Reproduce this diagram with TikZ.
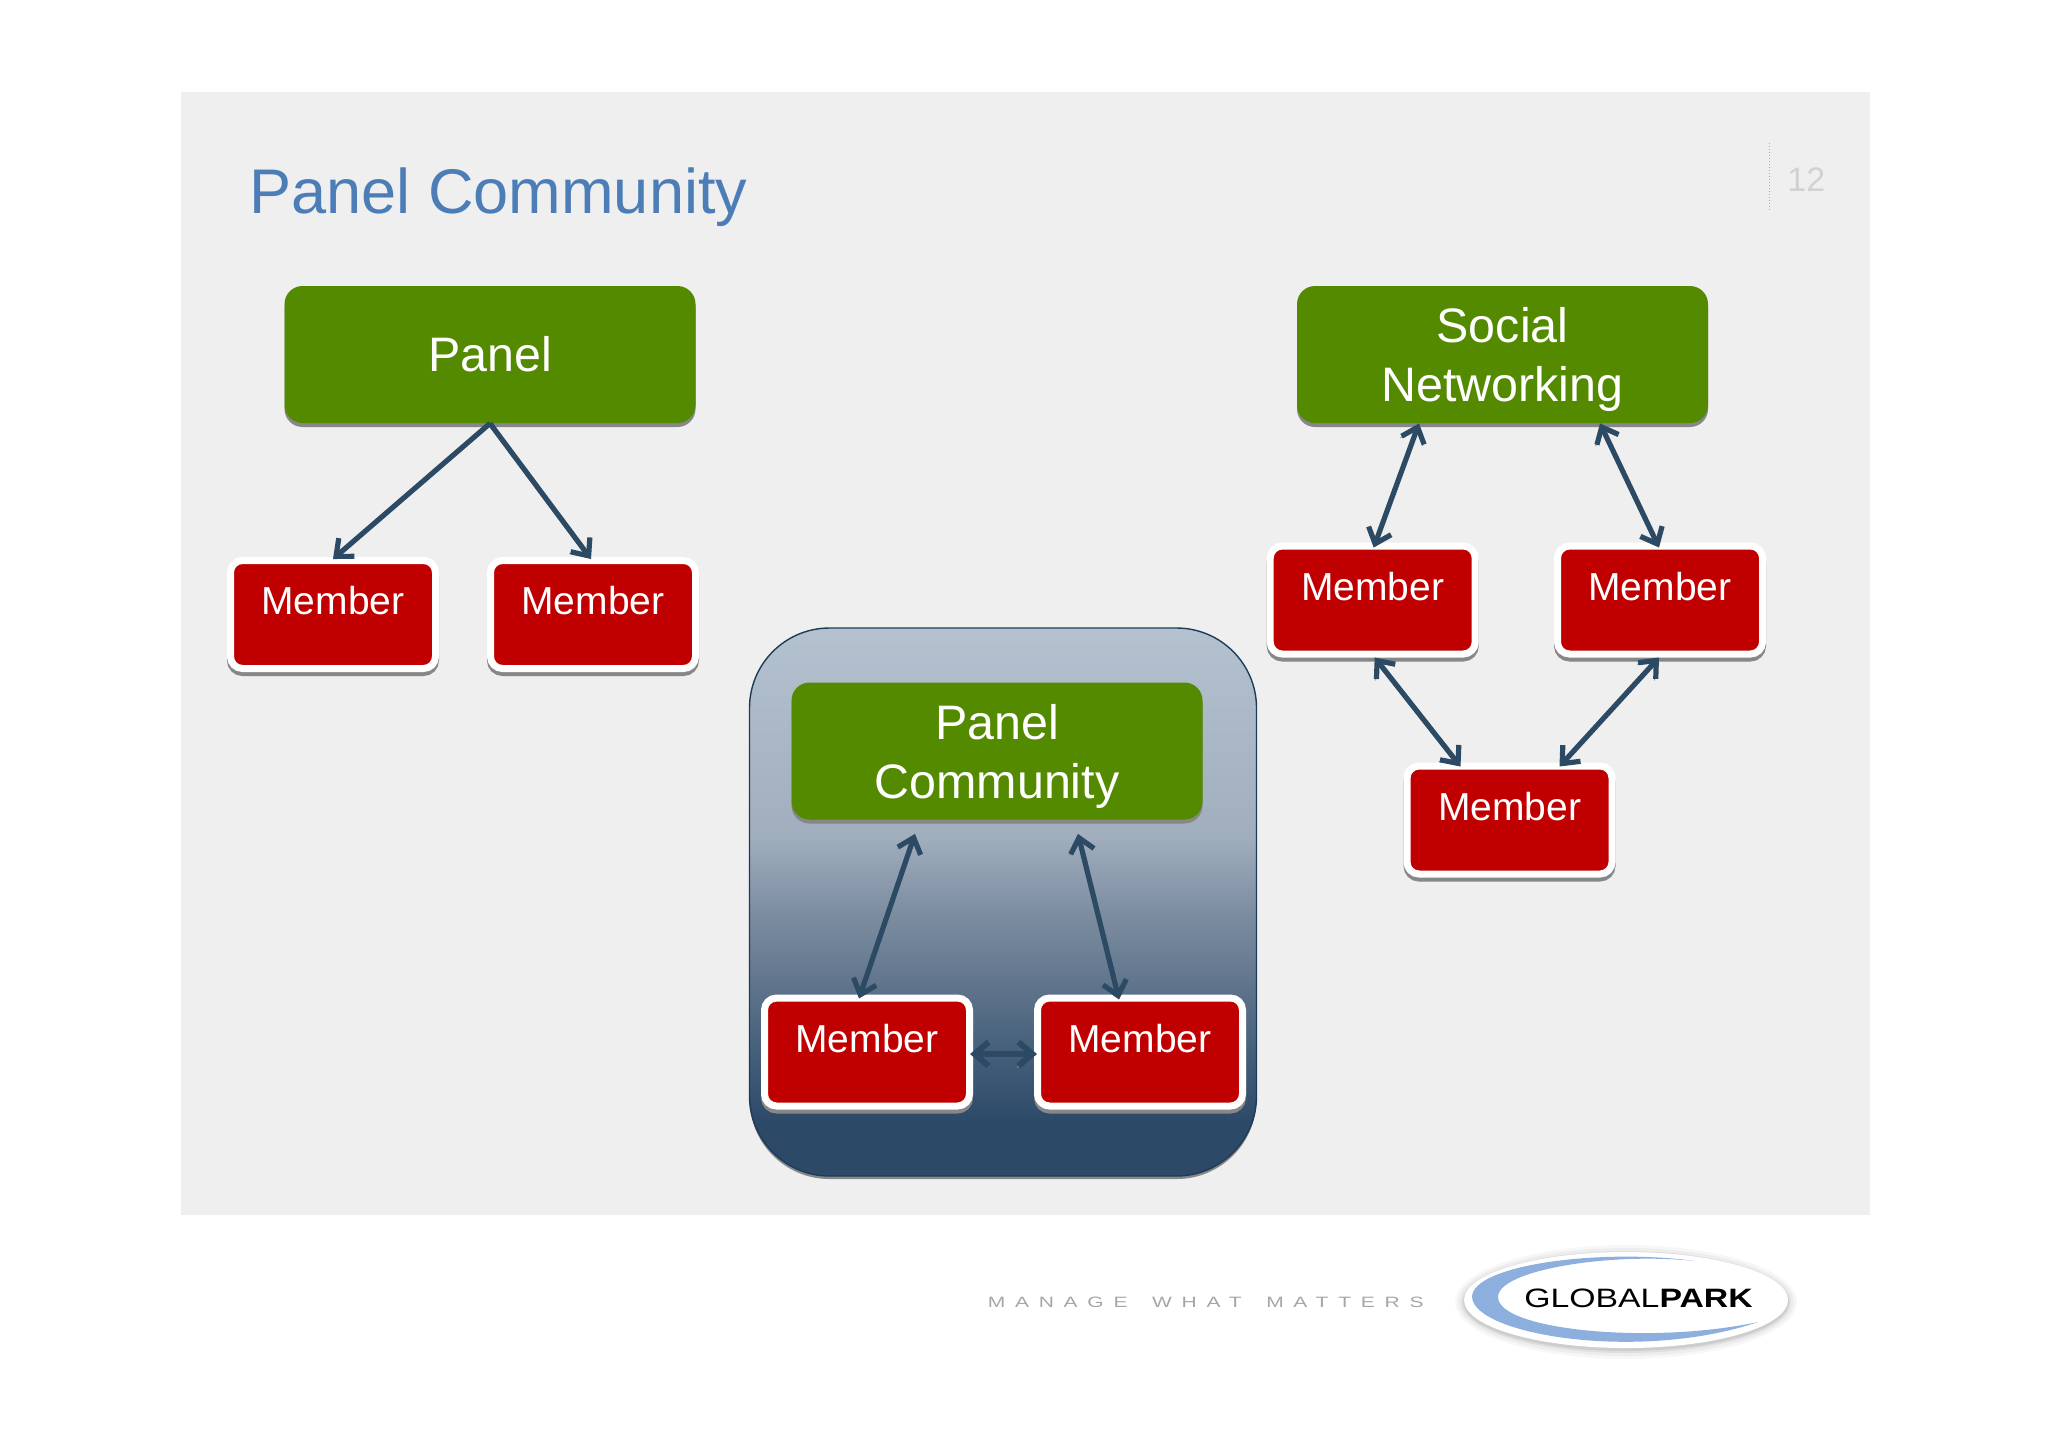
\documentclass[tikz,border=0pt]{standalone}
\usepackage{fontspec}
\setmainfont{Liberation Sans}
\newfontfamily\tagfont[FakeStretch=1.4,LetterSpace=65]{Liberation Sans}
\newfontfamily\logofont[FakeStretch=1.27]{Liberation Sans}
\usetikzlibrary{arrows.meta,shadows,shapes.geometric}
\definecolor{slidebg}{RGB}{239,239,240}
\definecolor{titleblue}{RGB}{76,125,183}
\definecolor{boxgreen}{RGB}{84,138,0}
\definecolor{boxred}{RGB}{192,0,0}
\definecolor{arrowc}{RGB}{44,74,100}
\definecolor{arrowshade}{RGB}{140,148,155}
\definecolor{shadowc}{RGB}{135,135,135}
\definecolor{edgec}{RGB}{30,60,90}
\definecolor{swoosh}{RGB}{140,175,222}
\pgfdeclareverticalshading{panelfade}{100bp}{
  rgb(0bp)=(0.173,0.29,0.408);
  rgb(25bp)=(0.173,0.29,0.408);
  rgb(30bp)=(0.173,0.29,0.408);
  rgb(39bp)=(0.314,0.408,0.51);
  rgb(49bp)=(0.49,0.553,0.627);
  rgb(56bp)=(0.627,0.682,0.745);
  rgb(75bp)=(0.706,0.757,0.812);
  rgb(100bp)=(0.706,0.757,0.812)}
\tikzset{
  greenbox/.style={fill=boxgreen,text=white,rounded corners=9pt,
    minimum width=205.5pt,minimum height=68.5pt,inner sep=0pt,
    font=\fontsize{24.2}{29.5}\selectfont,align=center,
    general shadow={fill=shadowc,shadow yshift=-2pt}},
  memberbox/.style={fill=boxred,draw=white,line width=3.5pt,text=white,rounded corners=6pt,
    minimum width=102.5pt,minimum height=54pt,inner sep=0pt,
    text height=10pt,text depth=10pt,
    font=\fontsize{19.5}{23}\selectfont,
    general shadow={fill=shadowc,draw=shadowc,line width=3.5pt,shadow yshift=-2pt}},
  onearrow/.style={draw=arrowc,line width=2.6pt,>={Straight Barb[length=7pt,width=12pt]},->,
    preaction={draw=arrowshade,transform canvas={xshift=-0.6pt,yshift=-0.8pt}}},
  twoarrow/.style={draw=arrowc,line width=2.6pt,>={Straight Barb[length=7pt,width=12pt]},<->,
    preaction={draw=arrowshade,transform canvas={xshift=-0.6pt,yshift=-0.8pt}}}
}
\begin{document}
\begin{tikzpicture}[x=0.5pt,y=-0.5pt]
\useasboundingbox (0,0) rectangle (2048,1447);
\fill[white] (0,0) rectangle (2048,1447);
\fill[slidebg] (181,92) rectangle (1870,1215);
% title and page number
\node[anchor=base west,inner sep=0pt,text=titleblue,font=\fontsize{31.55}{37}\selectfont] (title) at (249,213) {Panel Community};
\draw[shadowc!70,densely dotted,line width=0.5pt] (1769,143) -- (1769,210);
\node[anchor=base west,inner sep=0pt,text=black!18,font=\fontsize{17}{20}\selectfont] (pageno) at (1787,191) {12};
% left group
\node[greenbox,text height=17pt,text depth=0pt] (panel) at (490,354.5) {Panel};
\node[memberbox] (m1) at (333,614.5) {Member};
\node[memberbox] (m2) at (593,614.5) {Member};
\draw[onearrow] (panel.south) -- ([yshift=-1pt]m1.north);
\draw[onearrow] (panel.south) -- ([xshift=-1pt,yshift=-1pt]m2.north);
% centre group
\node[shading=panelfade,draw=edgec,line width=0.7pt,rounded corners=40pt,
  minimum width=253.5pt,minimum height=274pt,inner sep=0pt,
  general shadow={fill=shadowc,shadow yshift=-1.5pt}] (pcbox) at (1003,902) {};
\node[greenbox,text height=47pt,text depth=0pt] (pc) at (997,751) {Panel\\Community};
\node[memberbox] (ml) at (867,1052) {Member};
\node[memberbox] (mr) at (1140,1052) {Member};
\draw[twoarrow] ([xshift=-41pt,yshift=-7pt]pc.south) -- ([xshift=-4pt,yshift=-2pt]ml.north);
\draw[twoarrow] ([xshift=40.5pt,yshift=-7pt]pc.south) -- ([xshift=-10.5pt,yshift=-2.5pt]mr.north);
\draw[twoarrow,line width=3pt] ([xshift=-1.5pt,yshift=-1pt]ml.east) -- ([xshift=1.5pt,yshift=-1pt]mr.west);
% right group
\node[greenbox,text height=47pt,text depth=0pt] (social) at (1502.5,354.5) {Social\\Networking};
\node[memberbox] (tl) at (1372.7,600) {Member};
\node[memberbox] (tr) at (1660,600) {Member};
\node[memberbox] (bm) at (1509.5,820) {Member};
\draw[twoarrow] ([xshift=-41.75pt]social.south) -- ([xshift=0.5pt,yshift=-2.5pt]tl.north);
\draw[twoarrow] ([xshift=48.75pt]social.south) -- ([xshift=-0.5pt,yshift=-2.5pt]tr.north);
\draw[twoarrow] ([xshift=1pt]tl.south) -- ([xshift=-24.5pt,yshift=-2pt]bm.north);
\draw[twoarrow] ([xshift=-0.5pt]tr.south) -- ([xshift=25pt,yshift=-2pt]bm.north);
% tagline and logo
\node[anchor=base west,inner sep=0pt,text=black!35,font=\fontsize{7.5}{9}\tagfont] (tag) at (987.4,1307) {MANAGE\hspace{4.5pt} WHAT\hspace{4.5pt} MATTERS};
\foreach \g/\o in {9/0.03,6/0.04,3/0.06,1/0.08}
  \fill[black,opacity=\o] (1626,1302) ellipse[x radius={(162+\g)*0.5pt},y radius={(48+\g)*0.5pt}];
\fill[white] (1626,1300) ellipse[x radius=81pt,y radius=24pt];
\fill[swoosh] (1695,1261) .. controls (1600,1248) and (1472,1265) .. (1472,1297)
  .. controls (1474,1335) and (1640,1362) .. (1758,1322)
  .. controls (1650,1345) and (1498,1330) .. (1498,1297)
  .. controls (1498,1270) and (1610,1252) .. (1695,1261) -- cycle;
\node[inner sep=0pt,text=black,font=\fontsize{13.3}{16}\logofont] (logo) at (1638.5,1298.5) {GLOBAL\textbf{PARK}};
\end{tikzpicture}
\end{document}
